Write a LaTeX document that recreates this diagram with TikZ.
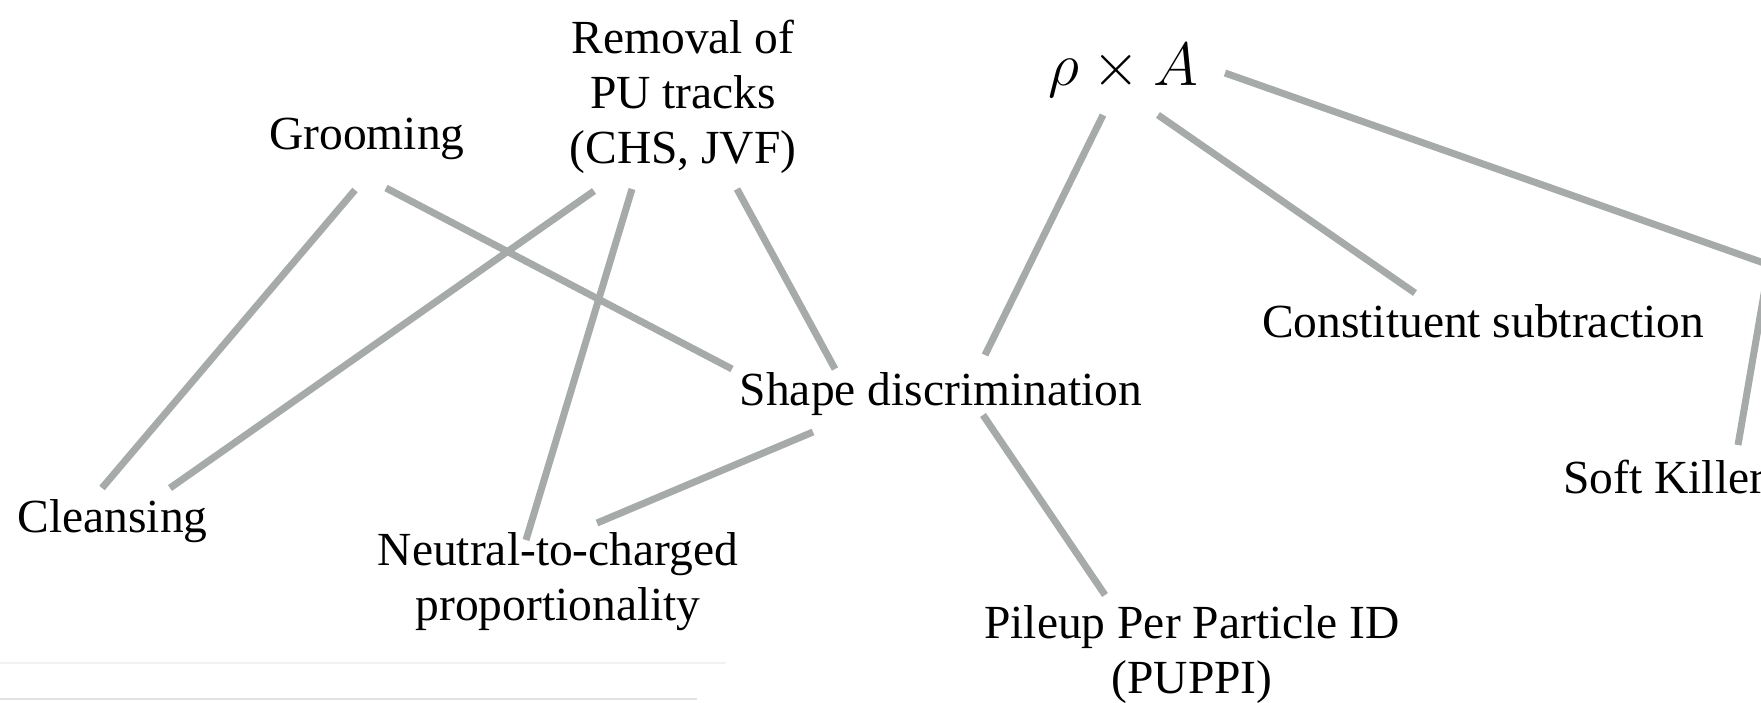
\documentclass[tikz,border=0pt]{standalone}
\usepackage{graphicx}
\usepackage{fontspec}
\setmainfont{Liberation Serif}
\definecolor{linkgray}{HTML}{A6AAA8}
\tikzset{
  lbl/.style={inner sep=0pt, anchor=base, font=\fontsize{23.75}{27.5}\selectfont},
  link/.style={draw=linkgray, line width=3.5pt},
}
\newcommand{\mlines}[1]{\begin{tabular}[t]{@{}c@{}}#1\end{tabular}}
\begin{document}
\begin{tikzpicture}[x=0.5pt,y=-0.5pt]
\useasboundingbox (0,0) rectangle (1761,702);
\clip (0,0) rectangle (1761,702);
\fill[white] (0,0) rectangle (1761,702);
% faint rules at bottom left
\draw[draw={rgb,255:red,242;green,242;blue,242}, line width=1.2pt] (0,663) -- (726,663);
\draw[draw={rgb,255:red,226;green,226;blue,226}, line width=1.2pt] (0,699) -- (697,699);
% nodes
\node[lbl] (groom) at (367,149) {Grooming};
\node[lbl] (removal) at (683,53) {\mlines{Removal of\\PU tracks\\(CHS, JVF)}};
\node[lbl] (rho) at (1123.5,85) {\scalebox{1.226}{\fontsize{24.88}{30}\selectfont$\rho\times A$}};
\node[lbl] (shape) at (941,405) {Shape discrimination};
\node[lbl] (const) at (1483,337) {Constituent subtraction};
\node[lbl, anchor=base west] (soft) at (1563,493) {Soft Killer};
\node[lbl] (cleans) at (112.5,532) {Cleansing};
\node[lbl] (neutral) at (558,565) {\mlines{Neutral-to-charged\\proportionality}};
\node[lbl] (puppi) at (1192,638) {\mlines{Pileup Per Particle ID\\(PUPPI)}};
\coordinate (offA) at (1900,311);
\coordinate (offB) at (1775,230);
% connectors
\draw[link] ([shift={(-12,41)}]groom.base) -- ([shift={(-10.5,-44)}]cleans.base);
\draw[link] ([shift={(19,39)}]groom.base) -- ([shift={(-209,-36)}]shape.base);
\draw[link] ([shift={(-89,138)}]removal.base) -- ([shift={(57.5,-44)}]cleans.base);
\draw[link] ([shift={(-51,136)}]removal.base) -- ([shift={(-32,-25)}]neutral.base);
\draw[link] ([shift={(54,136)}]removal.base) -- ([shift={(-106,-36)}]shape.base);
\draw[link] ([shift={(-128,27)}]shape.base) -- ([shift={(39,-42)}]neutral.base);
\draw[link] ([shift={(42,10)}]shape.base) -- ([shift={(-87,-43)}]puppi.base);
\draw[link] ([shift={(-20.5,30)}]rho.base) -- ([shift={(44,-50)}]shape.base);
\draw[link] ([shift={(34.5,30)}]rho.base) -- ([shift={(-68,-44)}]const.base);
\draw[link] ([shift={(101.5,-12)}]rho.base) -- (offA);
\draw[link] ([shift={(175,-48)}]soft.base west) -- (offB);
\end{tikzpicture}
\end{document}
